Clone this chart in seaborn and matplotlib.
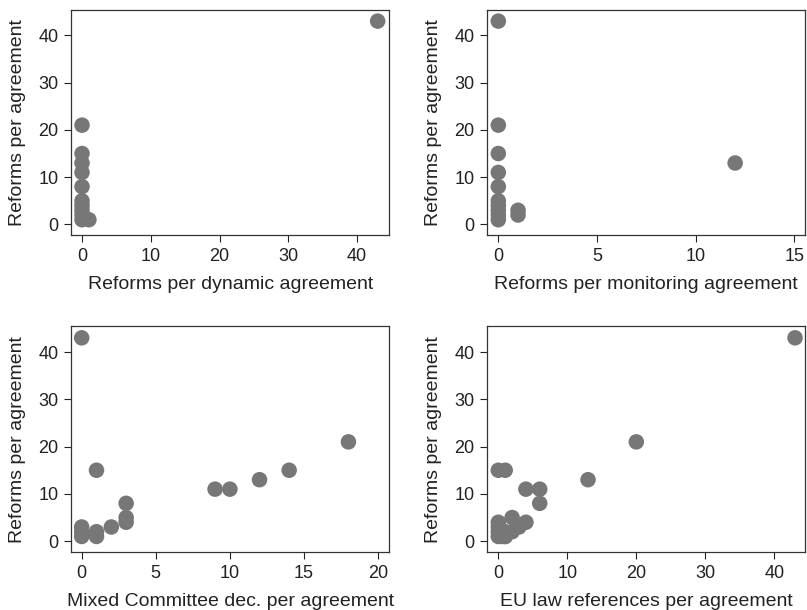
import matplotlib
matplotlib.use("Agg")
import matplotlib.pyplot as plt
import seaborn as sns
import pandas as pd

# Data
y_label = "Reforms per agreement"

dyn_x = [43, 0, 0, 0, 0, 0, 0, 0, 0, 0, 0, 1]
dyn_y = [43, 21, 15, 13, 11, 8, 5, 4, 3, 2, 1, 1]

mon_x = [0, 0, 0, 0, 0, 0, 0, 0, 0, 0, 12, 1, 1]
mon_y = [43, 21, 15, 11, 8, 5, 4, 3, 2, 1, 13, 3, 2]

mc_x = [0, 18, 14, 1, 12, 9, 10, 3, 3, 3, 2, 1, 1, 0, 0, 0]
mc_y = [43, 21, 15, 15, 13, 11, 11, 8, 5, 4, 3, 2, 1, 3, 2, 1]

eu_x = [43, 20, 0, 1, 13, 4, 6, 6, 2, 4, 0, 0, 0, 0, 1, 1, 2, 3, 1, 0.5]
eu_y = [43, 21, 15, 15, 13, 11, 11, 8, 5, 4, 4, 3, 2, 1, 1, 2, 2, 3, 1, 1]

panels = [
    (dyn_x, dyn_y, "Reforms per dynamic agreement", (-1.6, 44.7), [0, 10, 20, 30, 40]),
    (mon_x, mon_y, "Reforms per monitoring agreement", (-0.57, 15.56), [0, 5, 10, 15]),
    (mc_x, mc_y, "Mixed Committee dec. per agreement", (-0.72, 20.76), [0, 5, 10, 15, 20]),
    (eu_x, eu_y, "EU law references per agreement", (-1.63, 44.5), [0, 10, 20, 30, 40]),
]

sns.set_style("ticks")
plt.rcParams['font.family'] = ['Liberation Sans', 'DejaVu Sans']

fig, axes = plt.subplots(2, 2, figsize=(8.07, 6.10), dpi=100)
fig.subplots_adjust(left=0.088, right=0.998, top=0.984, bottom=0.095,
                    wspace=0.307, hspace=0.404)

for ax, (xs, ys, xlabel, xlim, xticks) in zip(axes.flat, panels):
    df = pd.DataFrame({"x": xs, "y": ys})
    sns.scatterplot(data=df, x="x", y="y", ax=ax, color="#777777",
                    s=125, edgecolor="none", linewidth=0)
    ax.set_xlim(*xlim)
    ax.set_ylim(-2.3, 45.4)
    ax.set_xticks(xticks)
    ax.set_yticks([0, 10, 20, 30, 40])
    ax.set_xlabel(xlabel, fontsize=14, color="#222222", labelpad=8)
    ax.set_ylabel(y_label, fontsize=14, color="#222222", labelpad=9)
    ax.tick_params(axis="both", labelsize=13, colors="#222222",
                   length=5, width=0.8, direction="out", pad=4)
    for sp in ax.spines.values():
        sp.set_visible(True)
        sp.set_color("#333333")
        sp.set_linewidth(0.9)

fig.savefig("out.png", dpi=100)
